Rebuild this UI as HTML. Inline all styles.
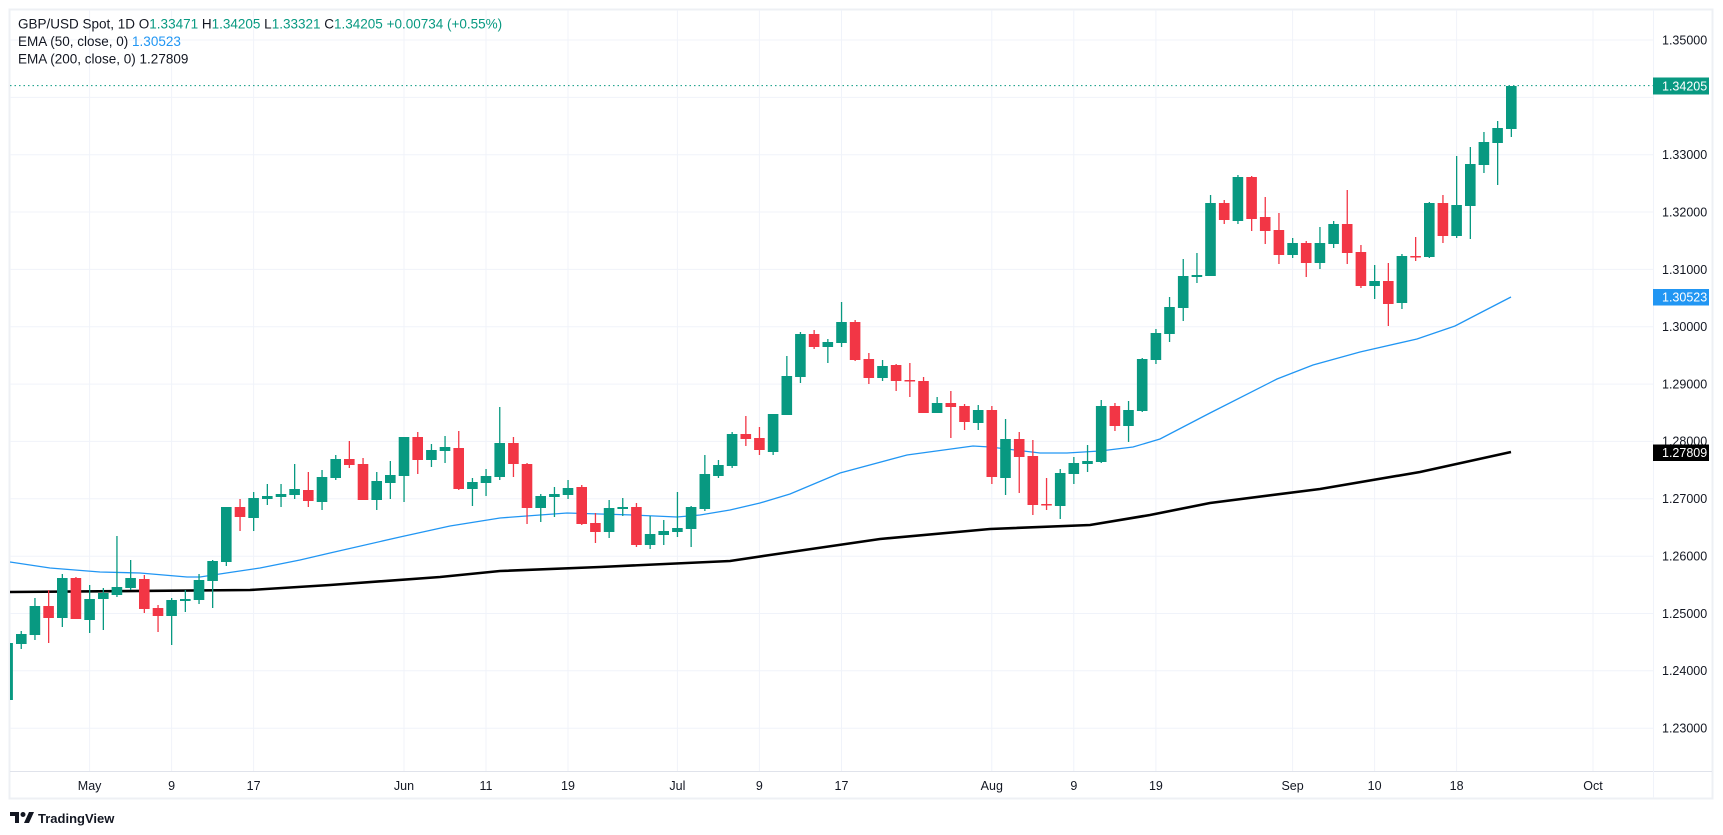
<!DOCTYPE html>
<html><head><meta charset="utf-8"><style>
html,body{margin:0;padding:0;background:#fff;}
svg{display:block;font-family:"Liberation Sans",Arial,sans-serif;}
</style></head><body>
<svg width="1723" height="835" viewBox="0 0 1723 835" xmlns="http://www.w3.org/2000/svg">
<defs><clipPath id="pc"><rect x="10" y="10" width="1643" height="761"/></clipPath></defs>
<rect x="0" y="0" width="1723" height="835" fill="#fff"/>
<rect x="9.5" y="9.5" width="1703" height="789" fill="none" stroke="#eef0f4" stroke-width="2"/>
<g stroke="#f0f3fa" stroke-width="1">
<line x1="10" x2="1653" y1="40" y2="40"/><line x1="10" x2="1653" y1="97.4" y2="97.4"/><line x1="10" x2="1653" y1="154.7" y2="154.7"/><line x1="10" x2="1653" y1="212" y2="212"/><line x1="10" x2="1653" y1="269.4" y2="269.4"/><line x1="10" x2="1653" y1="326.8" y2="326.8"/><line x1="10" x2="1653" y1="384.1" y2="384.1"/><line x1="10" x2="1653" y1="441.4" y2="441.4"/><line x1="10" x2="1653" y1="498.8" y2="498.8"/><line x1="10" x2="1653" y1="556.2" y2="556.2"/><line x1="10" x2="1653" y1="613.5" y2="613.5"/><line x1="10" x2="1653" y1="670.8" y2="670.8"/><line x1="10" x2="1653" y1="728.2" y2="728.2"/>
<line y1="10" y2="771" x1="89.6" x2="89.6"/><line y1="10" y2="771" x1="171.6" x2="171.6"/><line y1="10" y2="771" x1="253.6" x2="253.6"/><line y1="10" y2="771" x1="404" x2="404"/><line y1="10" y2="771" x1="486" x2="486"/><line y1="10" y2="771" x1="568" x2="568"/><line y1="10" y2="771" x1="677.4" x2="677.4"/><line y1="10" y2="771" x1="759.4" x2="759.4"/><line y1="10" y2="771" x1="841.5" x2="841.5"/><line y1="10" y2="771" x1="991.8" x2="991.8"/><line y1="10" y2="771" x1="1073.8" x2="1073.8"/><line y1="10" y2="771" x1="1155.9" x2="1155.9"/><line y1="10" y2="771" x1="1292.6" x2="1292.6"/><line y1="10" y2="771" x1="1374.6" x2="1374.6"/><line y1="10" y2="771" x1="1456.6" x2="1456.6"/><line y1="10" y2="771" x1="1593" x2="1593"/>
</g>
<line x1="10" x2="1712" y1="771.5" y2="771.5" stroke="#e0e3eb"/>
<line x1="1653.5" x2="1653.5" y1="10" y2="798" stroke="#f0f3fa"/>
<g clip-path="url(#pc)">
<line x1="10" x2="1653" y1="85.6" y2="85.6" stroke="#089981" stroke-dasharray="1.5,3" stroke-width="1"/>
<polyline fill="none" stroke="#2196f3" stroke-width="1.3" points="10,562 50,568 100,572 140,573 187,577 200,577 233,572 260,568 300,560 330,553 400,537 450,526 500,518 567,513 633,515 677,517 700,515 730,510 760,503 790,494 840,473 907,455 973,446 990,447 1040,453 1067,453 1100,451 1133,447 1160,439 1210,413 1277,379 1313,365 1360,352 1417,339 1455,326 1480,313 1511,297"/>
<polyline fill="none" stroke="#000" stroke-width="2.6" points="10,592 250,590 330,585 440,577 500,571 600,567 730,561 770,555 880,539 990,529 1090,525 1150,515 1210,503 1320,489 1420,472 1511,452"/>
<path fill="#089981" d="M7,643h1.3V700h-1.3z M2.3,643h10.6V700h-10.6z M20.6,631h1.3V649h-1.3z M16,634h10.6V644h-10.6z M34.3,598h1.3V640h-1.3z M29.6,606h10.6V635h-10.6z M61.7,574h1.3V627h-1.3z M57,578h10.6V618h-10.6z M89,585h1.3V633h-1.3z M84.3,599h10.6V620h-10.6z M102.7,588h1.3V630h-1.3z M98,593h10.6V599h-10.6z M116.3,536h1.3V597h-1.3z M111.6,587h10.6V595h-10.6z M130,560h1.3V590h-1.3z M125.3,578h10.6V588h-10.6z M171,598h1.3V645h-1.3z M166.3,600h10.6V616h-10.6z M184.7,590h1.3V612h-1.3z M180,599h10.6V601h-10.6z M198.4,574h1.3V604h-1.3z M193.7,580h10.6V600h-10.6z M212,560h1.3V608h-1.3z M207.3,561h10.6V581h-10.6z M225.7,507h1.3V566h-1.3z M221,507h10.6V562h-10.6z M253,492h1.3V531h-1.3z M248.3,498h10.6V518h-10.6z M266.7,484h1.3V505h-1.3z M262,496h10.6V499h-10.6z M280.4,484h1.3V507h-1.3z M275.7,494h10.6V497h-10.6z M294,464h1.3V499h-1.3z M289.3,489h10.6V495h-10.6z M321.4,470h1.3V510h-1.3z M316.7,477h10.6V502h-10.6z M335.1,455h1.3V480h-1.3z M330.4,459h10.6V478h-10.6z M376.1,472h1.3V510h-1.3z M371.4,481h10.6V500h-10.6z M389.7,461h1.3V499h-1.3z M385,475h10.6V483h-10.6z M403.4,437h1.3V502h-1.3z M398.7,437h10.6V476h-10.6z M430.8,444h1.3V467h-1.3z M426.1,450h10.6V460h-10.6z M444.4,436h1.3V463h-1.3z M439.7,447h10.6V451h-10.6z M471.8,478h1.3V506h-1.3z M467.1,482h10.6V489h-10.6z M485.4,469h1.3V496h-1.3z M480.7,476h10.6V483h-10.6z M499.1,407h1.3V480h-1.3z M494.4,443h10.6V477h-10.6z M540.1,494h1.3V522h-1.3z M535.4,496h10.6V508h-10.6z M553.8,487h1.3V517h-1.3z M549.1,494h10.6V497h-10.6z M567.4,480h1.3V499h-1.3z M562.7,488h10.6V495h-10.6z M608.5,500h1.3V538h-1.3z M603.8,508h10.6V532h-10.6z M622.1,498h1.3V516h-1.3z M617.4,507h10.6V509h-10.6z M649.5,516h1.3V549h-1.3z M644.8,534h10.6V545h-10.6z M663.1,520h1.3V545h-1.3z M658.4,531h10.6V535h-10.6z M676.8,492h1.3V537h-1.3z M672.1,528h10.6V532h-10.6z M690.5,506h1.3V547h-1.3z M685.8,507h10.6V529h-10.6z M704.2,455h1.3V511h-1.3z M699.5,474h10.6V509h-10.6z M717.8,460h1.3V478h-1.3z M713.1,465h10.6V476h-10.6z M731.5,432h1.3V468h-1.3z M726.8,434h10.6V466h-10.6z M772.5,414h1.3V455h-1.3z M767.8,414h10.6V452h-10.6z M786.2,356h1.3V415h-1.3z M781.5,376h10.6V415h-10.6z M799.8,332h1.3V383h-1.3z M795.1,334h10.6V377h-10.6z M827.2,339h1.3V363h-1.3z M822.5,342h10.6V347h-10.6z M840.9,302h1.3V347h-1.3z M836.2,322h10.6V343h-10.6z M881.9,360h1.3V381h-1.3z M877.2,366h10.6V378h-10.6z M936.5,397h1.3V413h-1.3z M931.8,403h10.6V413h-10.6z M977.6,405h1.3V430h-1.3z M972.9,410h10.6V423h-10.6z M1004.9,419h1.3V495h-1.3z M1000.2,439h10.6V478h-10.6z M1059.6,469h1.3V519h-1.3z M1054.9,473h10.6V506h-10.6z M1073.2,457h1.3V484h-1.3z M1068.5,463h10.6V474h-10.6z M1086.9,445h1.3V472h-1.3z M1082.2,461h10.6V464h-10.6z M1100.6,400h1.3V463h-1.3z M1095.9,406h10.6V462h-10.6z M1127.9,401h1.3V442h-1.3z M1123.2,410h10.6V426h-10.6z M1141.6,358h1.3V412h-1.3z M1136.9,359h10.6V411h-10.6z M1155.3,329h1.3V364h-1.3z M1150.6,333h10.6V360h-10.6z M1168.9,297h1.3V342h-1.3z M1164.2,307h10.6V334h-10.6z M1182.6,259h1.3V321h-1.3z M1177.9,276h10.6V308h-10.6z M1196.3,253h1.3V283h-1.3z M1191.6,275h10.6V277h-10.6z M1209.9,195h1.3V276h-1.3z M1205.2,203h10.6V276h-10.6z M1237.3,175h1.3V224h-1.3z M1232.6,177h10.6V221h-10.6z M1292,238h1.3V258h-1.3z M1287.3,243h10.6V255h-10.6z M1319.3,227h1.3V269h-1.3z M1314.6,243h10.6V263h-10.6z M1333,221h1.3V248h-1.3z M1328.3,224h10.6V244h-10.6z M1374,265h1.3V299h-1.3z M1369.3,281h10.6V286h-10.6z M1401.3,254h1.3V309h-1.3z M1396.6,256h10.6V303h-10.6z M1428.7,202h1.3V258h-1.3z M1424,203h10.6V257h-10.6z M1456,156h1.3V238h-1.3z M1451.3,205h10.6V236h-10.6z M1469.7,147h1.3V239h-1.3z M1465,164h10.6V206h-10.6z M1483.3,132h1.3V173h-1.3z M1478.6,142h10.6V165h-10.6z M1497,121h1.3V185h-1.3z M1492.3,128h10.6V143h-10.6z M1510.7,86h1.3V137h-1.3z M1506,86h10.6V129h-10.6z"/>
<path fill="#f23645" d="M48,590h1.3V643h-1.3z M43.3,606h10.6V618h-10.6z M75.3,577h1.3V619h-1.3z M70.6,578h10.6V619h-10.6z M143.7,575h1.3V613h-1.3z M139,579h10.6V609h-10.6z M157.4,605h1.3V632h-1.3z M152.7,608h10.6V616h-10.6z M239.4,499h1.3V531h-1.3z M234.7,507h10.6V517h-10.6z M307.7,472h1.3V507h-1.3z M303,490h10.6V501h-10.6z M348.7,441h1.3V468h-1.3z M344,459h10.6V465h-10.6z M362.4,458h1.3V500h-1.3z M357.7,464h10.6V500h-10.6z M417.1,432h1.3V474h-1.3z M412.4,437h10.6V460h-10.6z M458.1,431h1.3V490h-1.3z M453.4,448h10.6V489h-10.6z M512.8,437h1.3V477h-1.3z M508.1,443h10.6V464h-10.6z M526.4,463h1.3V524h-1.3z M521.7,464h10.6V508h-10.6z M581.1,485h1.3V525h-1.3z M576.4,487h10.6V524h-10.6z M594.8,513h1.3V543h-1.3z M590.1,523h10.6V532h-10.6z M635.8,503h1.3V547h-1.3z M631.1,507h10.6V545h-10.6z M745.2,416h1.3V446h-1.3z M740.5,434h10.6V439h-10.6z M758.8,427h1.3V455h-1.3z M754.1,438h10.6V450h-10.6z M813.5,330h1.3V349h-1.3z M808.8,334h10.6V347h-10.6z M854.5,320h1.3V361h-1.3z M849.8,322h10.6V360h-10.6z M868.2,353h1.3V384h-1.3z M863.5,359h10.6V378h-10.6z M895.5,364h1.3V391h-1.3z M890.8,365h10.6V381h-10.6z M909.2,363h1.3V397h-1.3z M904.5,380h10.6V381.5h-10.6z M922.9,377h1.3V413h-1.3z M918.2,381h10.6V413h-10.6z M950.2,391h1.3V438h-1.3z M945.5,403h10.6V407h-10.6z M963.9,404h1.3V430h-1.3z M959.2,406h10.6V422h-10.6z M991.2,406h1.3V484h-1.3z M986.5,410h10.6V477h-10.6z M1018.6,432h1.3V493h-1.3z M1013.9,439h10.6V457h-10.6z M1032.2,440h1.3V515h-1.3z M1027.5,456h10.6V505h-10.6z M1045.9,478h1.3V510h-1.3z M1041.2,504h10.6V505.5h-10.6z M1114.3,403h1.3V431h-1.3z M1109.6,406h10.6V426h-10.6z M1223.6,200h1.3V224h-1.3z M1218.9,203h10.6V220h-10.6z M1251,176h1.3V231h-1.3z M1246.3,177h10.6V219h-10.6z M1264.6,197h1.3V244h-1.3z M1259.9,217h10.6V231h-10.6z M1278.3,213h1.3V264h-1.3z M1273.6,230h10.6V255h-10.6z M1305.6,241h1.3V277h-1.3z M1300.9,243h10.6V263h-10.6z M1346.6,190h1.3V264h-1.3z M1341.9,224h10.6V253h-10.6z M1360.3,245h1.3V288h-1.3z M1355.6,252h10.6V286h-10.6z M1387.7,263h1.3V326h-1.3z M1383,281h10.6V304h-10.6z M1415,237h1.3V261h-1.3z M1410.3,256h10.6V257.5h-10.6z M1442.3,195h1.3V243h-1.3z M1437.6,203h10.6V236h-10.6z"/>
</g>
<g font-size="12.5" fill="#131722">
<text x="1662" y="44.5">1.35000</text><text x="1662" y="159">1.33000</text><text x="1662" y="216.5">1.32000</text><text x="1662" y="274">1.31000</text><text x="1662" y="331">1.30000</text><text x="1662" y="388.5">1.29000</text><text x="1662" y="445.5">1.28000</text><text x="1662" y="503">1.27000</text><text x="1662" y="560.5">1.26000</text><text x="1662" y="618">1.25000</text><text x="1662" y="675">1.24000</text><text x="1662" y="732.5">1.23000</text>
</g>
<rect x="1653" y="77.5" width="56" height="17" fill="#089981"/><text x="1662" y="90.5" font-size="12.5" fill="#fff">1.34205</text>
<rect x="1653" y="289" width="56" height="16.5" fill="#2196f3"/><text x="1662" y="301.5" font-size="12.5" fill="#fff">1.30523</text>
<rect x="1653" y="444.5" width="56" height="16.5" fill="#000"/><text x="1662" y="457" font-size="12.5" fill="#fff">1.27809</text>
<g font-size="12.5" fill="#131722" text-anchor="middle">
<text x="89.6" y="790">May</text><text x="171.6" y="790">9</text><text x="253.6" y="790">17</text><text x="404" y="790">Jun</text><text x="486" y="790">11</text><text x="568" y="790">19</text><text x="677.4" y="790">Jul</text><text x="759.4" y="790">9</text><text x="841.5" y="790">17</text><text x="991.8" y="790">Aug</text><text x="1073.8" y="790">9</text><text x="1155.9" y="790">19</text><text x="1292.6" y="790">Sep</text><text x="1374.6" y="790">10</text><text x="1456.6" y="790">18</text><text x="1593" y="790">Oct</text>
</g>
<g font-size="13.5" fill="#131722" xml:space="preserve">
<text x="18" y="28.5">GBP/USD Spot, 1D  O<tspan fill="#089981">1.33471</tspan>  H<tspan fill="#089981">1.34205</tspan>  L<tspan fill="#089981">1.33321</tspan>  C<tspan fill="#089981">1.34205</tspan>  <tspan fill="#089981">+0.00734 (+0.55%)</tspan></text>
<text x="18" y="46">EMA (50, close, 0)  <tspan fill="#2196f3">1.30523</tspan></text>
<text x="18" y="63.5">EMA (200, close, 0)  1.27809</text>
</g>
<g transform="translate(10,812)">
<path d="M0,0 h9 v11 h-4 v-7 h-5z" fill="#131722"/><circle cx="13" cy="2.5" r="2.5" fill="#131722"/><path d="M14,11 l5,-11 h5 l-5,11z" fill="#131722"/>
<text x="28" y="11" font-size="13" font-weight="bold" fill="#131722">TradingView</text>
</g>
</svg>
</body></html>
